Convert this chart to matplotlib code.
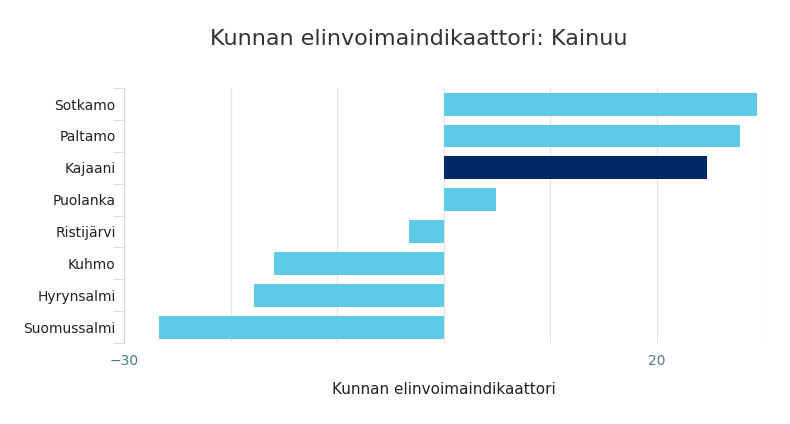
import matplotlib.pyplot as plt

# municipalities, top to bottom
kunnat = ["Sotkamo", "Paltamo", "Kajaani", "Puolanka", "Ristijärvi", "Kuhmo", "Hyrynsalmi", "Suomussalmi"]
arvot = [29.4, 27.8, 24.7, 4.9, -3.2, -15.9, -17.8, -26.7]
korostus = "Kajaani"

light = "#5ecbe6"
dark = "#002866"
grid_col = "#e6e6e6"
axis_col = "#ccd6eb"

fig = plt.figure(figsize=(7.9, 4.24), dpi=100)
ax = fig.add_axes([0.157, 0.191, 0.809, 0.601])

ypos = list(range(len(kunnat)))[::-1]
colors = [dark if k == korostus else light for k in kunnat]
ax.barh(ypos, arvot, height=0.72, color=colors, zorder=3)

ax.set_xlim(-30, 30)
ax.set_ylim(-0.5, len(kunnat) - 0.5)
ax.set_xticks([-30, -20, -10, 0, 10, 20, 30])
ax.set_xticklabels(["\u221230", "", "", "", "", "20", ""], color="#4a7a8c", fontsize=10)
ax.tick_params(axis="x", length=0, pad=8)
ax.grid(axis="x", color=grid_col, linewidth=1, zorder=0)

ax.set_yticks(ypos)
ax.set_yticklabels(kunnat, fontsize=10, color="#222222")
ax.set_yticks([y + 0.5 for y in ypos] + [-0.5], minor=True)
ax.tick_params(axis="y", which="major", length=0, pad=6)
ax.tick_params(axis="y", which="minor", length=8, color=axis_col)

for s in ["top", "right", "bottom"]:
    ax.spines[s].set_visible(False)
ax.spines["left"].set_color(axis_col)

ax.set_xlabel("Kunnan elinvoimaindikaattori", fontsize=11, color="#222222", labelpad=10)
fig.text(0.53, 0.895, "Kunnan elinvoimaindikaattori: Kainuu", ha="center", fontsize=16, color="#333333")

fig.savefig("out.png", dpi=100)
